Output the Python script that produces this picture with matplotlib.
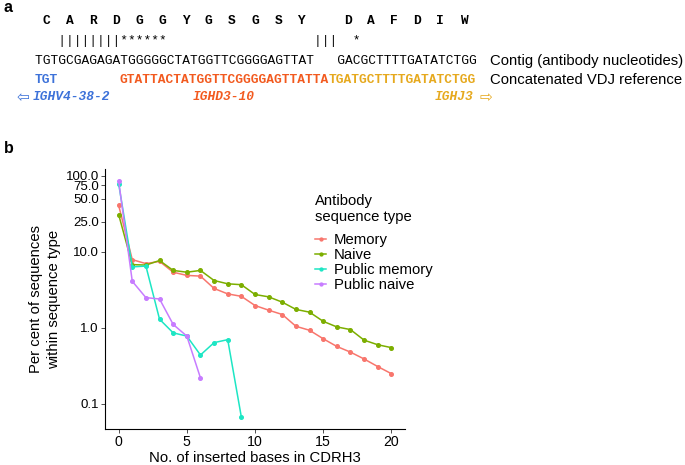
import numpy as np
import matplotlib
matplotlib.use("Agg")
import matplotlib.pyplot as plt
from matplotlib.ticker import NullLocator

plt.rcParams['font.family'] = ['Liberation Sans', 'DejaVu Sans']

# ---- panel a data (sequence alignment) ----
amino = "CARDGGYGSGSY DAFDIW"
match_row = "   ||||||||******                   |||  *"
contig = "TGTGCGAGAGATGGGGGCTATGGTTCGGGGAGTTAT   GACGCTTTTGATATCTGG"
ref_v = "TGT"
ref_d = "GTATTACTATGGTTCGGGGAGTTATTA"
ref_j = "TGATGCTTTTGATATCTGG"
d_start = 11
genes = ["IGHV4-38-2", "IGHD3-10", "IGHJ3"]
col_v, col_d, col_j = "#3d72d9", "#f25a1f", "#e6a91e"

# ---- panel b data ----
inserted = np.arange(21)
memory = [41, 7.9, 7.0, 7.5, 5.4, 4.9, 4.8, 3.3, 2.8, 2.6, 1.97, 1.71, 1.5,
          1.05, 0.93, 0.72, 0.57, 0.48, 0.39, 0.31, 0.25]
naive = [31, 6.8, 6.7, 7.7, 5.7, 5.4, 5.7, 4.2, 3.8, 3.7, 2.75, 2.56, 2.18,
         1.75, 1.61, 1.22, 1.03, 0.95, 0.69, 0.60, 0.55]
pub_memory = [79, 6.35, 6.5, 1.3, 0.86, 0.78, 0.44, 0.64, 0.70, 0.067]
pub_naive = [86, 4.1, 2.5, 2.4, 1.11, 0.78, 0.22]
series = [("Memory", memory, "#F8766D"),
          ("Naive", naive, "#7CAE00"),
          ("Public memory", pub_memory, "#1DE6C4"),
          ("Public naive", pub_naive, "#C77CFF")]

W, H = 685, 465
fig = plt.figure(figsize=(W/100, H/100), dpi=100)

def px(x, y):
    return x/W, 1 - y/H

x0, dx = 35, 7.72
mono = 'Liberation Mono'
fs_mono = dx/0.6*72/100   # monospace advance = 0.6 em

def col(i):
    return x0 + i*dx

fig.text(*px(4, 8), "a", fontsize=11.5, fontweight='bold', va='center')
fig.text(*px(4, 148), "b", fontsize=11.5, fontweight='bold', va='center')

# amino acids over the codon centres
for k, aa in enumerate(amino):
    if aa != " ":
        fig.text(*px(col(3*k + 1.5), 21), aa, family=mono, fontweight='bold',
                 fontsize=fs_mono, ha='center', va='center')
fig.text(*px(col(0), 41), match_row, family=mono, fontsize=fs_mono, va='center')
fig.text(*px(col(0), 61), contig, family=mono, fontsize=fs_mono, va='center')
fig.text(*px(col(0), 80), ref_v, family=mono, fontsize=fs_mono, va='center',
         color=col_v, fontweight='bold')
fig.text(*px(col(d_start), 80), ref_d, family=mono, fontsize=fs_mono, va='center',
         color=col_d, fontweight='bold')
fig.text(*px(col(d_start + len(ref_d)), 80), ref_j, family=mono, fontsize=fs_mono,
         va='center', color=col_j, fontweight='bold')

fig.text(*px(490, 61), "Contig (antibody nucleotides)", fontsize=10.7, va='center')
fig.text(*px(490, 80), "Concatenated VDJ reference", fontsize=10.7, va='center')

fig.text(*px(col(-0.3), 97), genes[0], family=mono, fontsize=fs_mono, va='center',
         color=col_v, fontweight='bold', style='italic')
fig.text(*px(col(-0.8), 97.5), "\u21e6", family='DejaVu Sans', fontsize=11, va='center',
         ha='right', color=col_v)
fig.text(*px(col(d_start + len(ref_d)/2), 97), genes[1], family=mono, fontsize=fs_mono,
         va='center', ha='center', color=col_d, fontweight='bold', style='italic')
j_end = col(d_start + len(ref_d) + len(ref_j))
fig.text(*px(j_end - 2, 97), genes[2], family=mono, fontsize=fs_mono, va='center',
         ha='right', color=col_j, fontweight='bold', style='italic')
fig.text(*px(j_end + 4, 97.5), "\u21e8", family='DejaVu Sans', fontsize=11, va='center',
         color=col_j)

# ---- panel b ----
ax = fig.add_axes([105/W, 1 - 429/H, 300/W, 260/H])
for name, vals, c in series:
    ax.plot(inserted[:len(vals)], vals, '-o', color=c, lw=1.1, ms=2.6, label=name)
ax.set_yscale('log')
ax.set_ylim(10**-1.33, 10**2.09)
ax.set_xlim(-1, 21)
yt = [0.1, 1, 10, 25, 50, 75, 100]
ax.set_yticks(yt)
ax.set_yticklabels([f"{v:.1f}" for v in yt])
ax.yaxis.set_minor_locator(NullLocator())
ax.set_xticks([0, 5, 10, 15, 20])
ax.tick_params(labelsize=9.5, length=3, width=0.6, color='#333333', pad=1.5)
ax.tick_params(axis='x', labelsize=10.2)
for s in ['top', 'right']:
    ax.spines[s].set_visible(False)
for s in ['left', 'bottom']:
    ax.spines[s].set_linewidth(0.8)
ax.set_xlabel("No. of inserted bases in CDRH3", fontsize=10.7, labelpad=1)
ax.set_ylabel("Per cent of sequences\nwithin sequence type", fontsize=10.7,
              labelpad=3, linespacing=1.35)

leg = ax.legend(title="Antibody\nsequence type", loc='upper left',
                bbox_to_anchor=(0.70, 0.905), frameon=False, fontsize=10.7,
                title_fontsize=10.7, handlelength=0.75, handletextpad=0.5,
                labelspacing=0.08, markerscale=0.8, borderpad=0, borderaxespad=0)
leg._legend_box.align = "left"
leg._legend_box.sep = 6.5

fig.savefig("out.png", dpi=100)
